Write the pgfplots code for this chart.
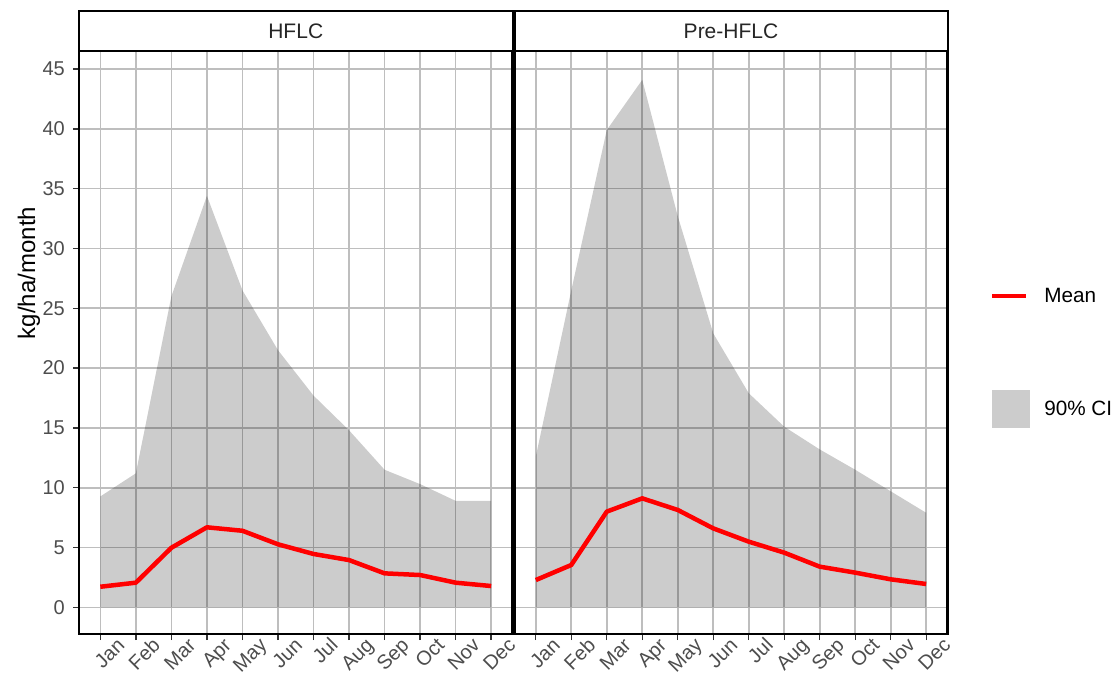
\documentclass[border=0pt]{standalone}
\usepackage{fontspec}
\setmainfont{Liberation Sans}
\usepackage{pgfplots}
\usepackage{pgfplotstable}
\pgfplotsset{compat=1.18}

\definecolor{gridgray}{RGB}{190,190,190}
\definecolor{ticktext}{RGB}{77,77,77}
\definecolor{meanred}{RGB}{255,0,0}

% month, upper bound of the 90% CI (lower bound is 0), mean
\pgfplotstableread{
m   hi    mean
1   9.27  1.72
2   11.2  2.06
3   26.0  4.98
4   34.4  6.69
5   26.5  6.40
6   21.5  5.27
7   17.7  4.46
8   14.8  3.95
9   11.5  2.84
10  10.3  2.70
11  8.9   2.06
12  8.9   1.78
}\hflc

\pgfplotstableread{
m   hi    mean
1   12.6  2.28
2   26.5  3.54
3   39.9  8.00
4   44.1  9.11
5   32.7  8.14
6   22.9  6.60
7   17.9  5.49
8   15.1  4.57
9   13.2  3.40
10  11.5  2.90
11  9.7   2.34
12  7.9   1.95
}\prehflc

\pgfplotsset{
  panel/.style={
    scale only axis, width=433.5pt, height=583pt,
    anchor=south west,
    xmin=0.4, xmax=12.6, ymin=-2.23, ymax=46.51,
    xtick={1,...,12},
    xticklabels={Jan,Feb,Mar,Apr,May,Jun,Jul,Aug,Sep,Oct,Nov,Dec},
    ytick={0,5,...,45},
    grid=major,
    major grid style={draw=gridgray, line width=1.6pt},
    axis line style={line width=2.5pt, black},
    tick align=outside, major tick length=6pt,
    every tick/.style={black!80, line width=1.4pt},
    xtick pos=bottom, ytick pos=left,
    /pgf/number format/assume math mode=true,
    xticklabel style={font=\fontsize{20}{23}\selectfont, text=ticktext,
      xshift=23pt, yshift=-4pt, rotate=45, anchor=east, inner sep=0pt,
      text height=0.72em, text depth=0pt},
    yticklabel style={font=\fontsize{20}{23}\selectfont, text=ticktext,
      anchor=east, inner sep=0pt, xshift=-8pt},
  },
  ci/.style={fill=black, fill opacity=0.2, draw=none, forget plot},
  meanline/.style={meanred, line width=4.5pt, line join=round, no marks, forget plot},
}

\begin{document}
\begin{tikzpicture}[x=1pt, y=1pt]
\path[use as bounding box] (0,0) rectangle (1120,675);

% HFLC panel
\begin{axis}[panel, name=left, at={(79pt,41pt)}]
  \addplot[ci] table[x=m, y=hi] {\hflc} \closedcycle;
  \addplot[meanline] table[x=m, y=mean] {\hflc};
\end{axis}

% Pre-HFLC panel with the legend
\begin{axis}[panel, name=right, at={(514.5pt,41pt)}, width=433pt,
    yticklabels={}, ytick style={draw=none},
    legend style={at={(1.098,0.475)}, anchor=west, draw=none, fill=none,
      inner sep=0pt, row sep=84pt, column sep=12pt,
      font=\fontsize{20.7}{24}\selectfont,
      cells={inner sep=0pt}},
    legend cell align=left]
  \addplot[ci] table[x=m, y=hi] {\prehflc} \closedcycle;
  \addplot[meanline] table[x=m, y=mean] {\prehflc};
  \addlegendimage{legend image code/.code={
      \draw[meanred, line width=4.3pt] (0pt,0pt) -- (34pt,0pt);}}
  \addlegendentry{Mean}
  \addlegendimage{legend image code/.code={
      \path[draw=none, fill=black, fill opacity=0.2] (0pt,-19pt) rectangle (38pt,19pt);}}
  \addlegendentry{90\% CI}
\end{axis}

% facet strips
\draw[line width=2pt, fill=white] (left.north west) rectangle ([yshift=40pt]left.north east);
\draw[line width=2pt, fill=white] (right.north west) rectangle ([yshift=40pt]right.north east);
\draw[line width=2.5pt] (left.north west) -- (left.north east);
\draw[line width=2.5pt] (right.north west) -- (right.north east);
\node[font=\fontsize{21}{25}\selectfont, text=black!85] at ([yshift=20pt]left.north) {HFLC};
\node[font=\fontsize{21}{25}\selectfont, text=black!85] at ([yshift=20pt]right.north) {Pre-HFLC};

% y axis title
\node[rotate=90, font=\fontsize{24}{28}\selectfont] at (29,402) {kg/ha/month};
\end{tikzpicture}
\end{document}
